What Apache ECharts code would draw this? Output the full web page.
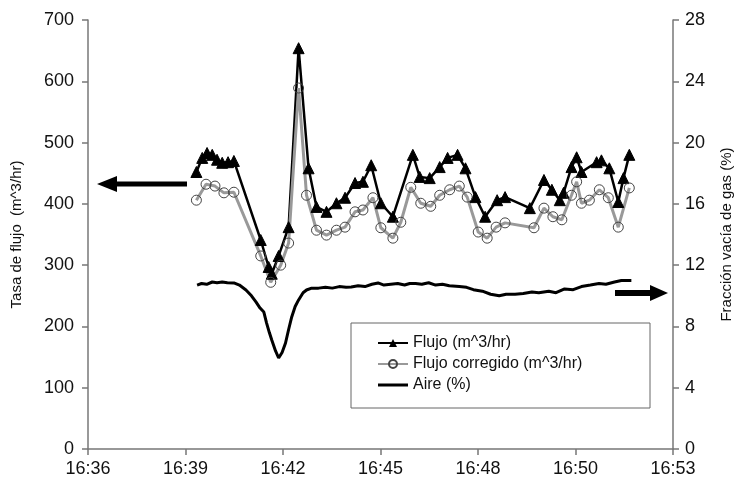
<!DOCTYPE html>
<html>
<head>
<meta charset="utf-8">
<script src="https://cdn.jsdelivr.net/npm/echarts@6/dist/echarts.min.js"></script>
<style>html,body{margin:0;padding:0;background:#fff}#c{width:742px;height:489px}</style>
</head>
<body>
<div id="c"></div>
<script>
// x values: minutes after 16:36
const xTickLabels = ['16:36','16:39','16:42','16:45','16:48','16:50','16:53'];
const xSpan = 17;

const flujoT = [3.15,3.32,3.46,3.61,3.75,3.90,4.07,4.24,5.02,5.25,5.34,5.54,5.83,6.12,6.41,6.64,6.93,7.22,7.47,7.76,7.99,8.23,8.51,8.86,9.44,9.64,9.93,10.22,10.45,10.74,10.97,11.26,11.54,11.89,12.12,12.84,13.25,13.48,13.71,13.82,14.05,14.20,14.34,14.78,14.92,15.15,15.41,15.56,15.73];
const flujoV = [452,475,483,480,472,467,468,470,341,297,286,315,362,654,458,395,387,401,410,434,436,463,401,379,480,444,442,460,475,480,458,411,379,406,411,393,439,423,406,418,460,476,452,468,471,458,403,442,480];

const corrT = [3.15,3.43,3.69,3.95,4.24,5.02,5.31,5.60,5.83,6.12,6.35,6.64,6.93,7.22,7.47,7.76,7.99,8.28,8.51,8.86,9.09,9.38,9.67,9.96,10.22,10.51,10.79,11.02,11.34,11.60,11.86,12.12,12.96,13.25,13.51,13.77,14.05,14.20,14.34,14.57,14.86,15.12,15.41,15.73];
const corrV = [406,432,429,418,419,315,272,300,336,589,414,357,349,357,362,387,390,410,361,344,370,427,401,396,414,423,429,411,354,344,362,369,361,393,379,374,414,436,401,406,423,410,362,426];

const aireT = [3.17,3.30,3.45,3.61,3.75,3.90,4.05,4.24,4.40,4.59,4.75,4.88,5.00,5.11,5.19,5.27,5.34,5.45,5.54,5.64,5.74,5.83,5.92,6.02,6.12,6.25,6.35,6.50,6.70,6.90,7.10,7.30,7.50,7.65,7.85,8.05,8.25,8.43,8.60,8.80,9.00,9.20,9.35,9.52,9.70,9.90,10.10,10.30,10.50,10.79,11.00,11.20,11.46,11.70,11.95,12.15,12.41,12.65,12.90,13.10,13.39,13.60,13.85,14.10,14.34,14.60,14.85,15.05,15.30,15.50,15.79];
const aireV = [10.7,10.8,10.75,10.9,10.85,10.9,10.85,10.84,10.7,10.38,10.0,9.6,9.2,8.94,8.22,7.6,7.11,6.4,5.94,6.3,6.92,7.8,8.62,9.3,9.73,10.2,10.38,10.5,10.5,10.55,10.5,10.6,10.55,10.57,10.65,10.6,10.75,10.84,10.7,10.75,10.8,10.7,10.8,10.8,10.75,10.85,10.7,10.75,10.65,10.6,10.55,10.4,10.3,10.1,10.0,10.1,10.1,10.15,10.25,10.2,10.3,10.2,10.45,10.4,10.6,10.7,10.8,10.75,10.9,11.0,11.0];

const seriesNames = ['Flujo (m^3/hr)','Flujo corregido (m^3/hr)','Aire (%)'];

const zip = (a,b) => a.map((v,i)=>[v,b[i]]);
const FONT = '"Liberation Sans", Arial, sans-serif';
const axisLine = {show:true, lineStyle:{color:'#777', width:1.5}};

const chart = echarts.init(document.getElementById('c'));
chart.setOption({
  animation:false,
  backgroundColor:'#fff',
  grid:{left:88, right:65, top:20, bottom:40},
  xAxis:{type:'value', min:0, max:xSpan, interval:xSpan/6,
    axisLine, axisTick:{show:true, length:6, lineStyle:{color:'#777', width:1.5}},
    splitLine:{show:false},
    axisLabel:{margin:11, fontSize:18, color:'#111', fontFamily:FONT,
      formatter:v=>xTickLabels[Math.round(v/(xSpan/6))]}},
  yAxis:[
    {type:'value', min:0, max:700, interval:100, position:'left',
      name:'Tasa de flujo  (m^3/hr)', nameLocation:'middle', nameGap:64, nameRotate:90,
      nameTextStyle:{fontSize:15, color:'#111', fontFamily:FONT},
      axisLine, axisTick:{show:true, length:6, lineStyle:{color:'#777', width:1.5}},
      splitLine:{show:false},
      axisLabel:{margin:14, fontSize:18, color:'#111', fontFamily:FONT}},
    {type:'value', min:0, max:28, interval:4, position:'right',
      name:'Fracción vacía de gas (%)', nameLocation:'middle', nameGap:46, nameRotate:90,
      nameTextStyle:{fontSize:15, color:'#111', fontFamily:FONT},
      axisLine, axisTick:{show:true, length:6, inside:false, lineStyle:{color:'#777', width:1.5}},
      splitLine:{show:false},
      axisLabel:{margin:12, fontSize:18, color:'#111', fontFamily:FONT}}
  ],
  legend:{show:true, orient:'vertical', left:372, top:330, itemGap:5, itemWidth:30, itemHeight:10,
    textStyle:{fontSize:16, color:'#111', fontFamily:FONT},
    data:[{name:seriesNames[0]},{name:seriesNames[1]},
      {name:seriesNames[2], icon:'path://M0,0H100V10H0Z', itemStyle:{color:'#000'}}]},
  graphic:[
    {type:'rect', shape:{x:351, y:323, width:299, height:85}, style:{fill:'#fff', stroke:'#666', lineWidth:1}, z:-1, zlevel:0},
    {type:'polygon', shape:{points:[[97,184],[117,176],[117,181.5],[187,181.5],[187,186.5],[117,186.5],[117,192]]}, style:{fill:'#000'}},
    {type:'polygon', shape:{points:[[668,293],[650,285],[650,290],[615,290],[615,296],[650,296],[650,301]]}, style:{fill:'#000'}}
  ],
  series:[
    {name:seriesNames[0], type:'line', yAxisIndex:0, data:zip(flujoT,flujoV),
      symbol:'triangle', symbolSize:11, showSymbol:true,
      lineStyle:{color:'#000', width:2.5}, itemStyle:{color:'#000', borderColor:'#000'}},
    {name:seriesNames[1], type:'line', yAxisIndex:0, data:zip(corrT,corrV),
      symbol:'circle', symbolSize:10, showSymbol:true,
      lineStyle:{color:'#999', width:3}, itemStyle:{color:'rgba(255,255,255,0)', borderColor:'#444', borderWidth:1}},
    {name:seriesNames[2], type:'line', yAxisIndex:1, data:zip(aireT,aireV),
      symbol:'none', showSymbol:false,
      lineStyle:{color:'#000', width:3}, itemStyle:{color:'#000'}}
  ]
});
</script>
</body>
</html>
